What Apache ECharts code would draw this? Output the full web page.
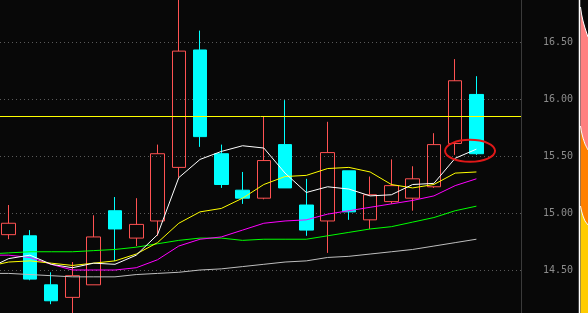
<!DOCTYPE html>
<html><head><meta charset="utf-8">
<script src="https://cdn.jsdelivr.net/npm/echarts@6/dist/echarts.min.js"></script>
<style>html,body{margin:0;padding:0;background:#080808;overflow:hidden}#c{width:588px;height:313px;}</style>
</head><body><div id="c"></div><script>
// ---- data ----
const candleDays = [1,2,3,4,5,6,7,8,9,10,11,12,13,14,15,16,17,18,19,20,21,22,23];
const opens  = [14.81,14.80,14.37,14.26,14.37,15.02,14.78,14.93,15.40,16.43,15.52,15.20,15.13,15.60,15.07,14.93,15.37,14.94,15.10,15.13,15.23,15.61,16.04];
const closes = [14.91,14.42,14.23,14.45,14.79,14.86,14.90,15.52,16.42,15.67,15.25,15.13,15.46,15.22,14.85,15.53,15.01,15.16,15.24,15.30,15.60,16.16,15.52];
const lows   = [14.77,14.41,14.20,14.05,14.37,14.58,14.71,14.80,15.31,15.58,15.22,15.08,15.12,15.22,14.80,14.65,14.94,14.86,15.08,15.02,15.22,15.51,15.51];
const highs  = [15.07,14.85,14.48,14.57,14.98,15.14,15.13,15.60,17.00,16.60,15.60,15.36,15.85,15.99,15.30,15.80,15.37,15.32,15.47,15.41,15.70,16.35,16.20];

const maDays = [0,1,2,3,4,5,6,7,8,9,10,11,12,13,14,15,16,17,18,19,20,21,22,23];
const ma5  = [14.51,14.60,14.63,14.55,14.52,14.56,14.55,14.63,14.81,15.31,15.47,15.54,15.59,15.57,15.35,15.18,15.23,15.21,15.15,15.16,15.25,15.26,15.48,15.56];
const ma10 = [14.53,14.57,14.58,14.56,14.54,14.56,14.58,14.64,14.74,14.91,15.01,15.04,15.13,15.25,15.32,15.33,15.39,15.40,15.36,15.25,15.22,15.25,15.35,15.36];
const ma20 = [14.63,14.63,14.61,14.55,14.50,14.50,14.50,14.52,14.59,14.71,14.77,14.79,14.85,14.91,14.93,14.94,14.99,15.02,15.05,15.08,15.11,15.15,15.24,15.30];
const ma30 = [14.64,14.65,14.66,14.66,14.66,14.67,14.68,14.70,14.73,14.76,14.78,14.78,14.76,14.77,14.77,14.77,14.80,14.83,14.86,14.88,14.92,14.96,15.02,15.06];
const ma60 = [14.47,14.47,14.46,14.45,14.44,14.44,14.44,14.46,14.47,14.48,14.50,14.51,14.53,14.55,14.57,14.58,14.61,14.62,14.64,14.66,14.68,14.71,14.74,14.77];

const refPrice = 15.85;          // horizontal yellow line
const markDay = 22.7, markPrice = 15.545; // red ellipse annotation centre

// ---- chart ----
const chart = echarts.init(document.getElementById('c'), null, {renderer:'canvas'});
const candleData = candleDays.map((d,i)=>[d, opens[i], closes[i], lows[i], highs[i]]);
function lineSeries(name, arr, color, extra){
  return Object.assign({
    name, type:'line', data: maDays.map((d,i)=>[d, arr[i]]),
    showSymbol:false, symbol:'none', smooth:false, z:3,
    lineStyle:{color, width:1}, itemStyle:{color}, silent:true
  }, extra||{});
}
const option = {
  animation:false,
  backgroundColor:'#080808',
  grid:{left:0, top:-15, width:521, height:342, containLabel:false, outerBoundsMode:'none'},
  xAxis:{type:'value', min:0.591, max:25.097, show:false, splitLine:{show:false}},
  yAxis:{
    type:'value', position:'right', min:14, max:17, interval:0.5,
    axisLine:{show:true, lineStyle:{color:'#3a3a3a', width:1}},
    axisTick:{show:false},
    axisLabel:{color:'#8c8c8c', fontFamily:'DejaVu Sans Mono', fontSize:10, margin:22,
      formatter:v=>v.toFixed(2)},
    splitLine:{show:true, lineStyle:{color:'#5a5a5a', type:[1,3], width:1}}
  },
  series:[
    {
      type:'candlestick', data:candleData, encode:{x:0, y:[1,2,3,4]},
      barWidth:14, z:2, silent:true,
      itemStyle:{color:'transparent', color0:'#00FFFF', borderColor:'#FF5252', borderColor0:'#00FFFF', borderWidth:1}
    },
    lineSeries('MA60', ma60, '#BEBEBE'),
    lineSeries('MA30', ma30, '#00FF00'),
    lineSeries('MA20', ma20, '#FF00FF'),
    lineSeries('MA10', ma10, '#FFFF00'),
    lineSeries('MA5', ma5, '#FFFFFF', {
      markLine:{silent:true, symbol:'none', label:{show:false},
        lineStyle:{color:'#FFFF00', width:1, type:'solid'},
        data:[{yAxis:refPrice}]}
    })
  ]
};
chart.setOption(option);

const c = chart.convertToPixel({gridIndex:0}, [markDay, markPrice]);
const curveA = [[580.5,7],[581.5,14],[583,21],[585,28],[588,37]];
const curveB = [[580.5,126],[581.5,132],[583,138],[585,144],[588,150]];
const curveC = [[580.5,206],[581.5,211],[583,216],[585,221],[588,225]];
chart.setOption({graphic:[
  {type:'ellipse', shape:{cx:c[0], cy:c[1], rx:25, ry:11}, z:100, silent:true,
   style:{fill:'none', stroke:'#E01818', lineWidth:2}},
  {type:'polygon', shape:{points:curveA.concat(curveB.slice().reverse())}, silent:true, style:{fill:'#FF8080'}},
  {type:'polygon', shape:{points:curveB.concat(curveC.slice().reverse())}, silent:true, style:{fill:'#FF8000'}},
  {type:'polygon', shape:{points:curveC.concat([[588,313],[580.5,313]])}, silent:true, style:{fill:'#FFCC00'}},
  {type:'polyline', shape:{points:curveA}, silent:true, style:{stroke:'#FFFFFF', lineWidth:1, fill:null}},
  {type:'polyline', shape:{points:curveB}, silent:true, style:{stroke:'#FFFFFF', lineWidth:1, fill:null}},
  {type:'polyline', shape:{points:curveC}, silent:true, style:{stroke:'#FFFFFF', lineWidth:1, fill:null}},
  {type:'line', shape:{x1:579.5, y1:0, x2:579.5, y2:313}, silent:true, style:{stroke:'#FFFFFF', lineWidth:1.5}}
]});
</script></body></html>
